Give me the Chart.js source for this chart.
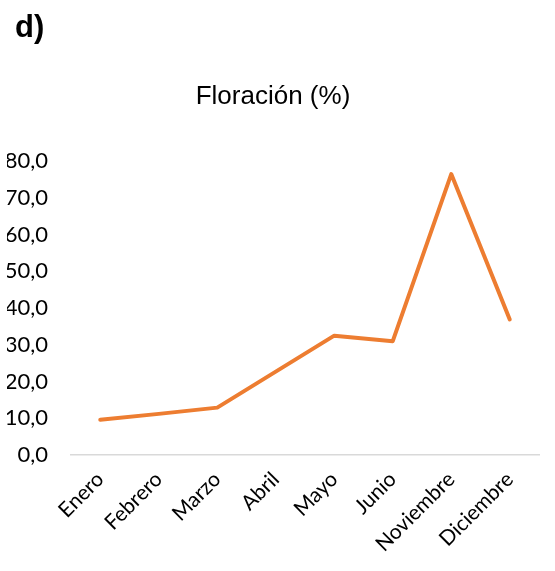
<!DOCTYPE html>
<html>
<head>
<meta charset="utf-8">
<script src="https://cdn.jsdelivr.net/npm/chart.js@4/dist/chart.umd.min.js"></script>
<style>
  html, body { margin: 0; padding: 0; background: #ffffff; }
  #wrap { position: relative; width: 555px; height: 571px; }
  #panel {
    position: absolute; left: 15px; top: 11px;
    font-family: "Liberation Sans", Arial, sans-serif;
    font-weight: bold; font-size: 31px; line-height: 31px; color: #000000;
  }
</style>
</head>
<body>
<div id="wrap">
  <canvas id="c"></canvas>
  <div id="panel">d)</div>
</div>
<script>
// Meses y porcentaje de floración
const meses = ['Enero', 'Febrero', 'Marzo', 'Abril', 'Mayo', 'Junio', 'Noviembre', 'Diciembre'];
const floracion = [9.6, 11.2, 12.9, 22.7, 32.5, 31.0, 76.5, 36.9];
const yTicks = [0, 10, 20, 30, 40, 50, 60, 70, 80];

const fmt = v => v.toFixed(1).replace('.', ',');

new Chart(document.getElementById('c'), {
  type: 'line',
  data: {
    labels: meses,
    datasets: [{
      data: floracion,
      borderColor: '#ED7D31',
      backgroundColor: '#ED7D31',
      borderWidth: 4,
      borderCapStyle: 'round',
      borderJoinStyle: 'round',
      pointRadius: 0,
      tension: 0,
      fill: false
    }]
  },
  options: {
    responsive: true,
    maintainAspectRatio: false,
    animation: false,
    layout: { autoPadding: false, padding: { left: 7, right: 16, top: 0, bottom: 0 } },
    plugins: {
      legend: { display: false },
      tooltip: { enabled: false },
      title: {
        display: true,
        text: 'Floración (%)',
        color: '#000000',
        font: { family: '"Liberation Sans", Arial, sans-serif', size: 26, weight: 'normal', lineHeight: 1.2 },
        padding: { top: 81, bottom: 49 }
      }
    },
    scales: {
      x: {
        offset: true,
        grid: { display: false },
        border: { display: true, color: '#d9d9d9', width: 1.5 },
        ticks: {
          autoSkip: false,
          maxRotation: 45,
          minRotation: 45,
          color: '#000000',
          padding: 4,
          font: { family: 'Lato, "Open Sans", sans-serif', size: 21 }
        },
        afterFit: s => { s.height = 116; }
      },
      y: {
        min: 0,
        max: 80,
        afterBuildTicks: axis => { axis.ticks = yTicks.map(v => ({ value: v })); },
        grid: { display: false },
        border: { display: false },
        ticks: {
          color: '#000000',
          padding: 15,
          font: { family: 'Lato, "Open Sans", sans-serif', size: 22 },
          callback: v => fmt(v)
        },
        afterFit: s => { s.width = 64; }
      }
    }
  }
});
</script>
</body>
</html>
